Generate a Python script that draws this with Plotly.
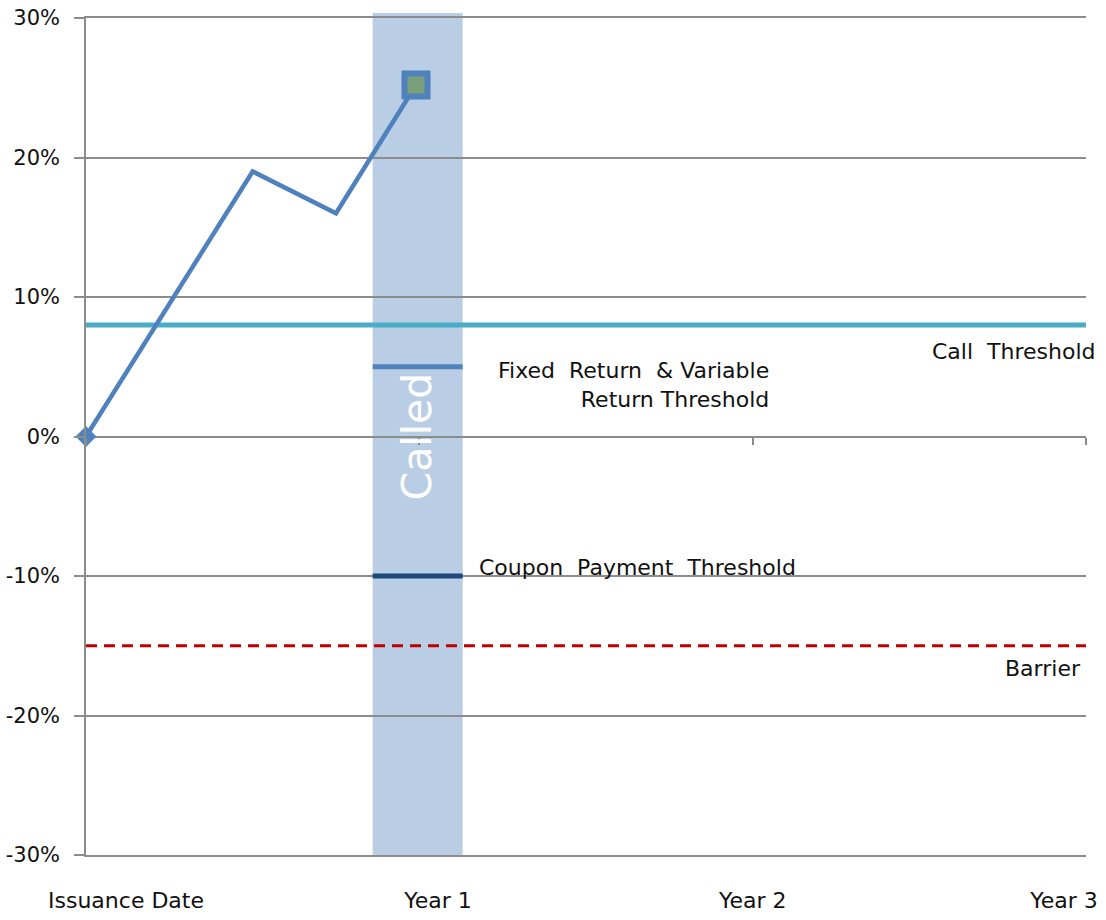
import plotly.graph_objects as go

# Underlying performance path (years since issuance, % return)
path_years = [0.0, 0.5, 0.75, 0.99]
path_returns = [0, 19, 16, 25.2]

# Thresholds (% return)
call_threshold = 8
fixed_return_threshold = 5
coupon_threshold = -10
barrier_level = -15

# Observation window around the Year 1 call date (years)
call_window = [0.86, 1.13]

# Axis ticks
x_tick_years = [0, 1, 2, 3]
x_tick_text = ["Issuance Date", "Year 1", "Year 2", "Year 3"]
y_tick_vals = [-30, -20, -10, 0, 10, 20, 30]
y_tick_text = ["-30%", "-20%", "-10%", "0%", "10%", "20%", "30%"]

FONT = "DejaVu Sans"
GRID = "#8c8c8c"
BLUE = "#4f81bd"
TEXT = "#111111"

# label anchor positions along the bottom axis (years)
x_label_pos = [0.12, 1.056, 2.0, 2.934]

fig = go.Figure()

# call threshold across the whole term
fig.add_trace(go.Scatter(
    x=[x_tick_years[0], x_tick_years[-1]], y=[call_threshold, call_threshold],
    mode="lines", line=dict(color="#4bacc6", width=5), hoverinfo="skip"))

# barrier across the whole term
fig.add_trace(go.Scatter(
    x=[x_tick_years[0], x_tick_years[-1]], y=[barrier_level, barrier_level],
    mode="lines", line=dict(color="#c00000", width=3, dash="11px,7px"), hoverinfo="skip"))

# thresholds applying within the observation window
fig.add_trace(go.Scatter(
    x=call_window, y=[fixed_return_threshold] * 2,
    mode="lines", line=dict(color=BLUE, width=5), hoverinfo="skip"))
fig.add_trace(go.Scatter(
    x=call_window, y=[coupon_threshold] * 2,
    mode="lines", line=dict(color="#1f497d", width=5), hoverinfo="skip"))

# performance path
fig.add_trace(go.Scatter(
    x=path_years, y=path_returns, mode="lines+markers",
    line=dict(color=BLUE, width=4.5),
    marker=dict(symbol=["diamond", "circle", "circle", "square"],
                size=[16, 0, 0, 23],
                color=[BLUE, BLUE, BLUE, "#7a9f7b"],
                opacity=1,
                line=dict(color=BLUE, width=[0, 0, 0, 6])),
    cliponaxis=False,
    hoverinfo="skip"))

# ticks along the zero line
fig.add_trace(go.Scatter(x=x_tick_years, y=[0] * 4, xaxis="x2", mode="none",
                         hoverinfo="skip"))

# observation window band
fig.add_shape(type="rect", xref="x", yref="paper",
              x0=call_window[0], x1=call_window[1], y0=0, y1=1.006,
              fillcolor="#b9cde5", line_width=0, layer="below")

fig.add_annotation(x=sum(call_window) / 2 - 0.005, y=0, text="Called", textangle=-90,
                   showarrow=False, font=dict(family=FONT, size=41, color="white"))

label_font = dict(family=FONT, size=22, color=TEXT)
fig.add_annotation(x=3, xshift=11, y=6.1, text="Call  Threshold", showarrow=False,
                   xanchor="right", font=label_font)
fig.add_annotation(x=2.992, y=-16.6, text="Barrier", showarrow=False,
                   xanchor="right", font=label_font)
fig.add_annotation(x=2.055, y=3.7, text="Fixed  Return  & Variable<br>Return Threshold",
                   showarrow=False, xanchor="right", align="right", font=label_font)
fig.add_annotation(x=1.173, y=-9.4, text="Coupon  Payment  Threshold", showarrow=False,
                   xanchor="left", font=label_font)

fig.update_layout(
    width=1106, height=920,
    margin=dict(l=86, r=20, t=18, b=65, autoexpand=False),
    paper_bgcolor="white", plot_bgcolor="white",
    showlegend=False,
    font=dict(family=FONT, size=20, color=TEXT),
    xaxis=dict(range=[0, 3], tickvals=x_label_pos, ticktext=x_tick_text,
               showgrid=False, zeroline=False, ticks="outside", ticklen=25,
               tickcolor="rgba(0,0,0,0)", showline=True, linecolor=GRID,
               linewidth=1.5, mirror=True, automargin=False,
               tickfont=dict(family=FONT, size=22, color=TEXT)),
    xaxis2=dict(range=[0, 3], overlaying="x", anchor="free", position=0.5,
                side="bottom", tickvals=x_tick_years, showticklabels=False,
                ticks="outside", ticklen=7, tickcolor=GRID, tickwidth=1.5,
                showgrid=False, zeroline=False, showline=False, automargin=False),
    yaxis=dict(range=[-30, 30], tickvals=y_tick_vals, ticktext=y_tick_text,
               showgrid=True, gridcolor=GRID, gridwidth=1.5,
               zeroline=True, zerolinecolor=GRID, zerolinewidth=1.5,
               ticks="outside", ticklen=10, tickcolor=GRID, tickwidth=1.5,
               ticklabelstandoff=10, automargin=False,
               showline=True, linecolor=GRID, linewidth=1.5,
               tickfont=dict(family=FONT, size=21, color=TEXT)),
)

fig.write_html("out.html")
